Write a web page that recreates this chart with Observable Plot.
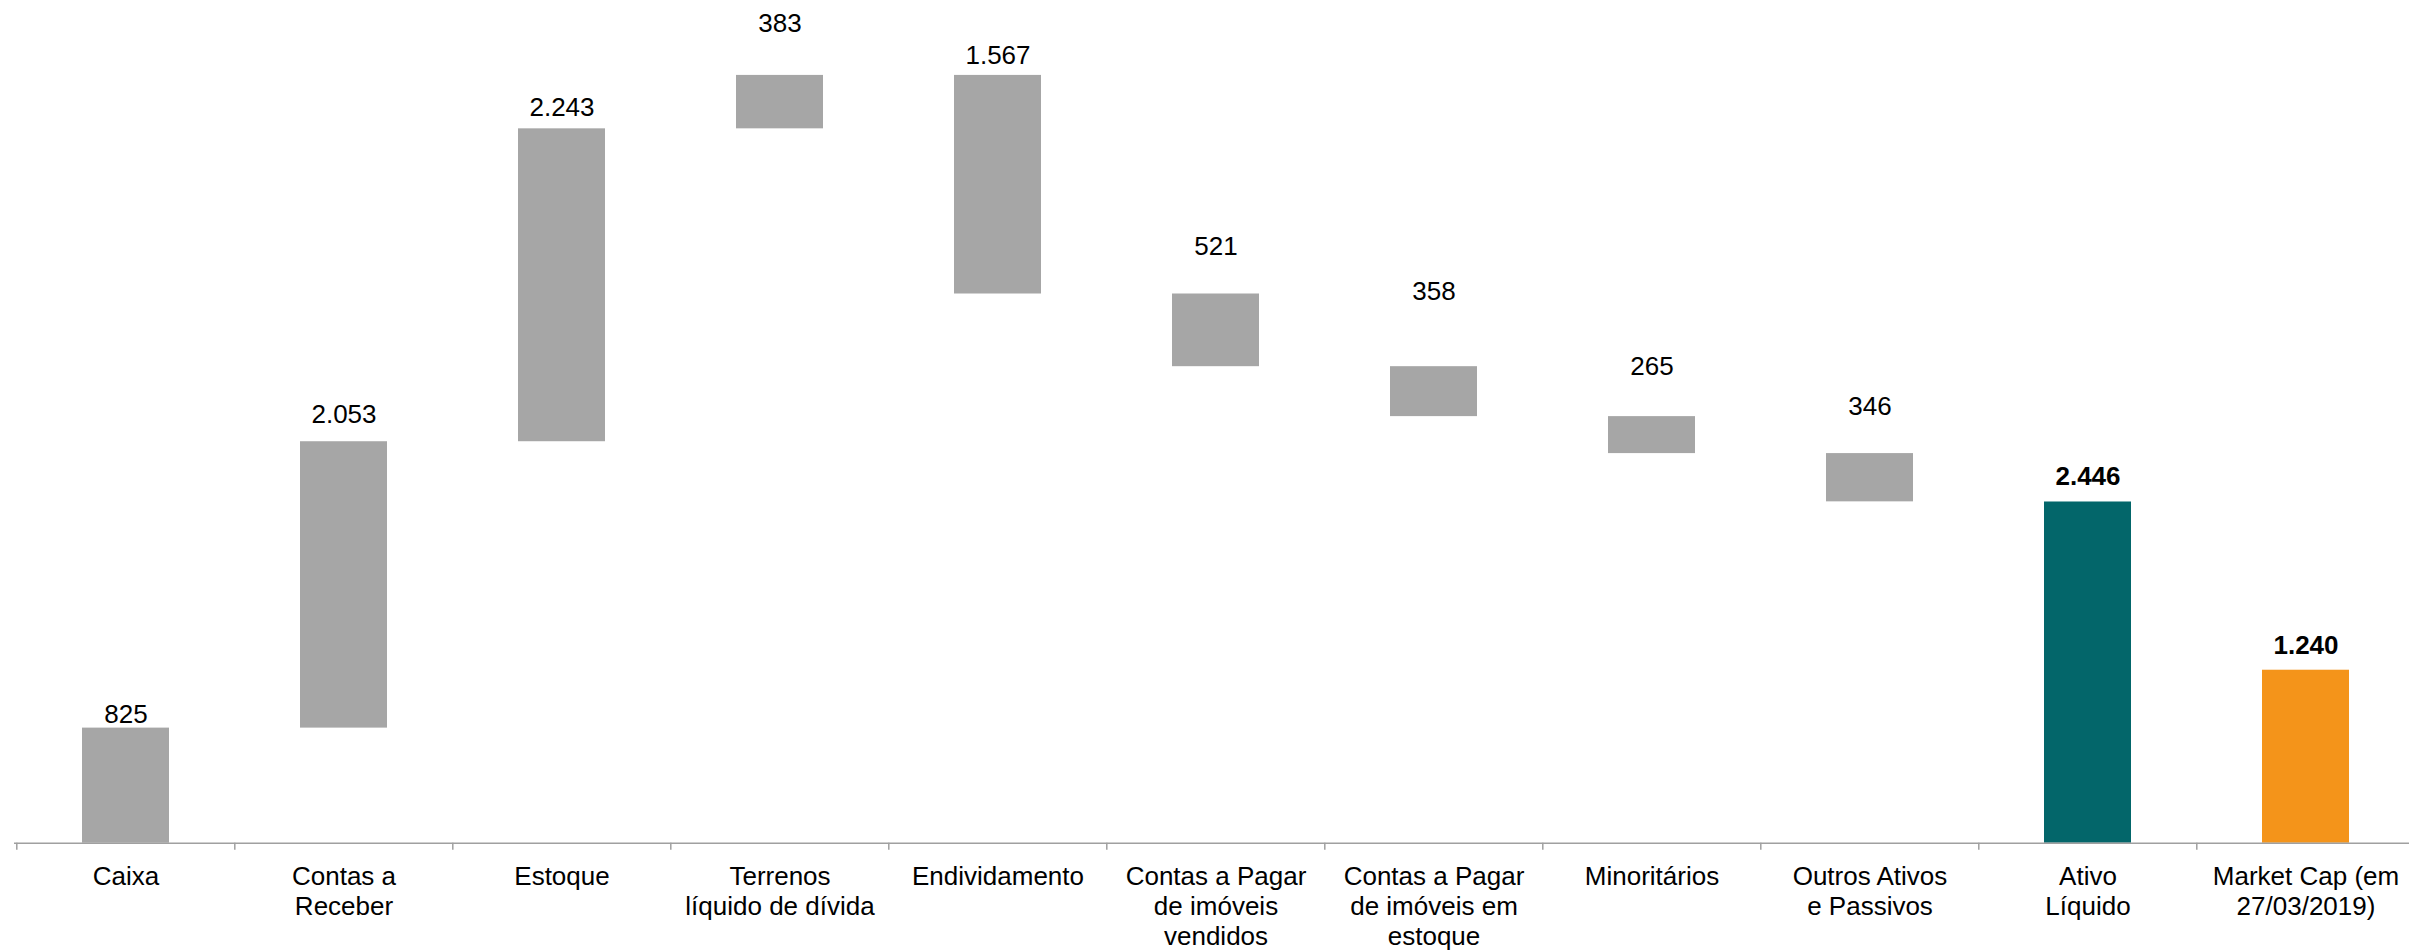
<!DOCTYPE html>
<html><head><meta charset="utf-8">
<script src="https://cdn.jsdelivr.net/npm/d3@7"></script>
<script src="https://cdn.jsdelivr.net/npm/@observablehq/plot@0.6"></script>
<style>html,body{margin:0;padding:0;background:#fff;} #chart svg{display:block}</style>
</head><body><div id="chart"></div>
<script>
const categories = ["Caixa","Contas a Receber","Estoque","Terrenos líquido de dívida","Endividamento","Contas a Pagar de imóveis vendidos","Contas a Pagar de imóveis em estoque","Minoritários","Outros Ativos e Passivos","Ativo Líquido","Market Cap (em 27/03/2019)"];
const tickLabels = ["Caixa","Contas a\nReceber","Estoque","Terrenos\nlíquido de dívida","Endividamento","Contas a Pagar\nde imóveis\nvendidos","Contas a Pagar\nde imóveis em\nestoque","Minoritários","Outros Ativos\ne Passivos","Ativo\nLíquido","Market Cap (em\n27/03/2019)"];
const steps = [825, 2053, 2243, 383, -1567, -521, -358, -265, -346];
const totalValues = [2446, 1240];
const kinds = ["step","step","step","step","step","step","step","step","step","ativo","market"];
// how far above each bar's top its value label sits (value units)
const labelLift = [40, 135, 95, 310, 85, 280, 480, 300, 280, 120, 115];

const fmt = d3.formatLocale({decimal: ",", thousands: ".", grouping: [3], currency: ["", ""]}).format(",d");

let run = 0;
const rows = categories.map((cat, i) => {
  let y1, y2, value;
  if (i < steps.length) {
    y1 = run; run += steps[i]; y2 = run; value = Math.abs(steps[i]);
  } else {
    y1 = 0; y2 = totalValues[i - steps.length]; value = y2;
  }
  return {cat, y1, y2, top: Math.max(y1, y2), value, kind: kinds[i], lift: labelLift[i], tick: tickLabels[i]};
});

const step = (2416.7 - 14.3) / 11;
const font = "'Liberation Sans', Arial, Helvetica, sans-serif";

const chart = Plot.plot({
  width: 2409,
  height: 950,
  marginTop: 0,
  marginBottom: 107.3,
  marginLeft: 14,
  marginRight: 0,
  x: {domain: categories, range: [14.3, 2416.7], paddingInner: 0.6, paddingOuter: 0.3, axis: null},
  y: {domain: [0, 6041], axis: null},
  color: {domain: ["step", "ativo", "market"], range: ["#a6a6a6", "#03666a", "#f4941a"]},
  style: {fontFamily: font, fontSize: "26px", background: "#fff", color: "#000"},
  marks: [
    Plot.barY(rows, {x: "cat", y1: "y1", y2: "y2", fill: "kind"}),
    Plot.ruleY([0], {stroke: "#a0a0a0", strokeWidth: 1.5}),
    Plot.ruleX(categories, {x: d => d, y1: 0, y2: -50, dx: -step / 2, stroke: "#a0a0a0", strokeWidth: 1.5}),
    Plot.text(rows.filter(d => d.kind === "step"), {x: "cat", y: d => d.top + d.lift, text: d => fmt(d.value), lineAnchor: "bottom", fontSize: 26, fill: "#000"}),
    Plot.text(rows.filter(d => d.kind !== "step"), {x: "cat", y: d => d.top + d.lift, text: d => fmt(d.value), lineAnchor: "bottom", fontSize: 26, fontWeight: "bold", fill: "#000"}),
    Plot.text(rows, {x: "cat", text: "tick", frameAnchor: "bottom", lineAnchor: "top", dy: 20, lineHeight: 1.16, fontSize: 26, fill: "#000"})
  ]
});
document.getElementById("chart").appendChild(chart);
</script>
</body></html>
